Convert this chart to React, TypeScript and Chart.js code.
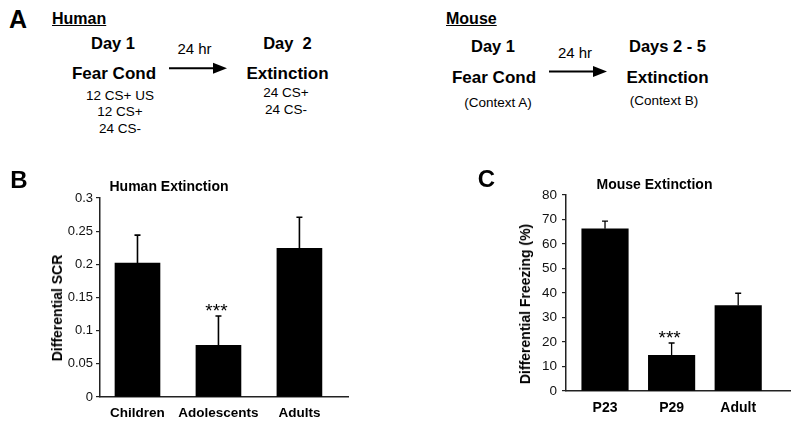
import React, { useEffect, useRef } from 'react';
import { Chart, registerables } from 'chart.js';

Chart.register(...registerables);

// ---- Panel B data (Human extinction) ----
const humanGroups = ['Children', 'Adolescents', 'Adults'];
const humanValues = [0.202, 0.078, 0.224];
const humanErrorTops = [0.244, 0.122, 0.271];
const humanMarks = ['', '***', ''];
const humanYTicks = [0, 0.05, 0.1, 0.15, 0.2, 0.25, 0.3];

// ---- Panel C data (Mouse extinction) ----
const mouseGroups = ['P23', 'P29', 'Adult'];
const mouseValues = [66.2, 14.6, 34.9];
const mouseErrorTops = [69.3, 19.6, 39.9];
const mouseMarks = ['', '***', ''];
const mouseYTicks = [0, 10, 20, 30, 40, 50, 60, 70, 80];

const FONT = '"Liberation Sans", Arial, Helvetica, sans-serif';

const errorBarPlugin = {
  id: 'errorBars',
  afterDatasetsDraw(chart: any, _args: any, opts: any) {
    const { ctx } = chart;
    const y = chart.scales.y;
    const meta = chart.getDatasetMeta(0);
    ctx.save();
    ctx.strokeStyle = '#000';
    ctx.lineWidth = opts.lineWidth;
    meta.data.forEach((bar: any, i: number) => {
      const top = y.getPixelForValue(opts.errors[i]);
      ctx.beginPath();
      ctx.moveTo(bar.x, bar.y);
      ctx.lineTo(bar.x, top);
      ctx.moveTo(bar.x - opts.cap / 2, top);
      ctx.lineTo(bar.x + opts.cap / 2, top);
      ctx.stroke();
      if (opts.marks[i]) {
        ctx.fillStyle = '#000';
        ctx.font = `${opts.markSize}px ${FONT}`;
        ctx.textAlign = 'center';
        ctx.textBaseline = 'alphabetic';
        ctx.fillText(opts.marks[i], bar.x - 2, top + 1);
      }
    });
    ctx.restore();
  },
};

type PanelProps = {
  left: number;
  top: number;
  width: number;
  height: number;
  groups: string[];
  values: number[];
  errors: number[];
  marks: string[];
  yTicks: number[];
  axisX: number;
  areaRight: number;
  areaTop: number;
  areaBottom: number;
  xMin: number;
  xMax: number;
  barWidth: number;
  tickSize: number;
  labelSize: number;
  labelPad: number;
  tickPad: number;
  errWidth: number;
};

function BarPanel(p: PanelProps) {
  const ref = useRef<HTMLCanvasElement>(null);
  useEffect(() => {
    if (!ref.current) return;
    const chart = new Chart(ref.current, {
      type: 'bar',
      data: {
        datasets: [
          {
            data: p.values.map((v, i) => ({ x: i, y: v })),
            backgroundColor: '#000',
            borderWidth: 0,
            barThickness: p.barWidth,
          },
        ],
      },
      options: {
        responsive: false,
        animation: false,
        layout: {
          padding: { left: 0, top: p.areaTop, right: p.width - p.areaRight, bottom: 0 },
        },
        plugins: {
          legend: { display: false },
          tooltip: { enabled: false },
          title: { display: false },
          errorBars: {
            errors: p.errors,
            marks: p.marks,
            cap: 6,
            lineWidth: p.errWidth,
            markSize: 19,
          },
        } as any,
        scales: {
          x: {
            type: 'linear',
            min: p.xMin,
            max: p.xMax,
            offset: false,
            grid: { display: false, drawTicks: false },
            border: { display: true, color: '#222', width: 1.5 },
            afterBuildTicks: (s: any) => {
              s.ticks = p.groups.map((_, i) => ({ value: i }));
            },
            afterFit: (s: any) => {
              s.height = p.height - p.areaBottom;
            },
            ticks: {
              autoSkip: false,
              maxRotation: 0,
              padding: p.labelPad,
              color: '#000',
              font: { family: FONT, size: p.labelSize, weight: 'bold' },
              callback: (v: any) => p.groups[Math.round(Number(v))] ?? '',
            },
          },
          y: {
            min: p.yTicks[0],
            max: p.yTicks[p.yTicks.length - 1],
            grid: {
              display: true,
              drawOnChartArea: false,
              drawTicks: true,
              tickLength: 4,
              color: '#222',
              lineWidth: 1.2,
            },
            border: { display: true, color: '#222', width: 1.5 },
            afterBuildTicks: (s: any) => {
              s.ticks = p.yTicks.map((v) => ({ value: v }));
            },
            afterFit: (s: any) => {
              s.width = p.axisX;
            },
            ticks: {
              padding: p.tickPad,
              color: '#111',
              font: { family: FONT, size: p.tickSize },
              callback: (v: any) => String(+Number(v).toFixed(2)),
            },
          },
        },
      },
      plugins: [errorBarPlugin],
    } as any);
    return () => chart.destroy();
  }, []);
  return (
    <canvas
      ref={ref}
      width={p.width}
      height={p.height}
      style={{ position: 'absolute', left: p.left, top: p.top, width: p.width, height: p.height }}
    />
  );
}

function T(props: {
  x: number;
  y: number;
  size: number;
  bold?: boolean;
  underline?: boolean;
  anchor?: 'left' | 'center';
  rotate?: boolean;
  children: React.ReactNode;
}) {
  const tx = props.anchor === 'left' ? '0' : '-50%';
  return (
    <div
      style={{
        position: 'absolute',
        left: props.x,
        top: props.y,
        transform: `translate(${tx}, -50%)${props.rotate ? ' rotate(-90deg)' : ''}`,
        fontFamily: FONT,
        fontSize: props.size,
        fontWeight: props.bold ? 'bold' : 'normal',
        textDecoration: props.underline ? 'underline' : 'none',
        lineHeight: 1,
        whiteSpace: 'pre',
        color: '#000',
      }}
    >
      {props.children}
    </div>
  );
}

function Arrow(props: { x1: number; x2: number; y: number }) {
  const { x1, x2, y } = props;
  return (
    <svg
      width={800}
      height={426}
      style={{ position: 'absolute', left: 0, top: 0, pointerEvents: 'none' }}
    >
      <line x1={x1} y1={y} x2={x2 - 12} y2={y} stroke="#000" strokeWidth={2} />
      <polygon points={`${x2 - 14},${y - 5.5} ${x2},${y} ${x2 - 14},${y + 5.5}`} fill="#000" />
    </svg>
  );
}

export default function App() {
  return (
    <div
      style={{
        position: 'fixed',
        left: 0,
        top: 0,
        width: 800,
        height: 426,
        background: '#fff',
        overflow: 'hidden',
      }}
    >
      {/* Panel A - Human */}
      <T x={9} y={18.5} size={25} bold anchor="left">A</T>
      <T x={52} y={18.5} size={16} bold underline anchor="left">Human</T>
      <T x={113} y={42.5} size={16.5} bold>Day 1</T>
      <T x={194.5} y={47.5} size={15}>24 hr</T>
      <T x={287.5} y={42.5} size={16.5} bold>{'Day  2'}</T>
      <T x={114} y={72.5} size={17} bold>Fear Cond</T>
      <T x={287.5} y={72.5} size={17} bold>Extinction</T>
      <T x={120} y={95.5} size={13.5}>12 CS+ US</T>
      <T x={120} y={112} size={13.5}>12 CS+</T>
      <T x={120} y={128.5} size={13.5}>24 CS-</T>
      <T x={286} y={93} size={13.5}>24 CS+</T>
      <T x={286} y={110} size={13.5}>24 CS-</T>
      <Arrow x1={169} x2={227} y={68.3} />

      {/* Panel A - Mouse */}
      <T x={446} y={19} size={16} bold underline anchor="left">Mouse</T>
      <T x={493} y={46} size={16.5} bold>Day 1</T>
      <T x={575} y={52} size={15}>24 hr</T>
      <T x={667.5} y={46} size={16.5} bold>Days 2 - 5</T>
      <T x={494} y={77} size={17} bold>Fear Cond</T>
      <T x={667.5} y={77} size={17} bold>Extinction</T>
      <T x={498} y={102.5} size={13.5}>(Context A)</T>
      <T x={664} y={101} size={13.5}>(Context B)</T>
      <Arrow x1={549} x2={607} y={71.5} />

      {/* Panel B */}
      <BarPanel
        left={0}
        top={160}
        width={400}
        height={266}
        groups={humanGroups}
        values={humanValues}
        errors={humanErrorTops}
        marks={humanMarks}
        yTicks={humanYTicks}
        axisX={100}
        areaRight={348}
        areaTop={38}
        areaBottom={237}
        xMin={-0.463}
        xMax={2.6}
        barWidth={45}
        tickSize={13}
        labelSize={13.5}
        labelPad={8}
        tickPad={3}
        errWidth={1.6}
      />
      <T x={19} y={180} size={24} bold>B</T>
      <T x={169} y={185.5} size={14} bold>Human Extinction</T>
      <T x={57} y={307.5} size={14} bold rotate>Differential SCR</T>

      {/* Panel C */}
      <BarPanel
        left={400}
        top={160}
        width={400}
        height={266}
        groups={mouseGroups}
        values={mouseValues}
        errors={mouseErrorTops}
        marks={mouseMarks}
        yTicks={mouseYTicks}
        axisX={166}
        areaRight={390}
        areaTop={35}
        areaBottom={231}
        xMin={-0.586}
        xMax={2.778}
        barWidth={46.5}
        tickSize={13.5}
        labelSize={14}
        labelPad={9}
        tickPad={5}
        errWidth={1.3}
      />
      <T x={486.5} y={178.5} size={24} bold>C</T>
      <T x={654.5} y={184} size={14} bold>Mouse Extinction</T>
      <T x={525} y={303.5} size={14} bold rotate>Differential Freezing (%)</T>
    </div>
  );
}
